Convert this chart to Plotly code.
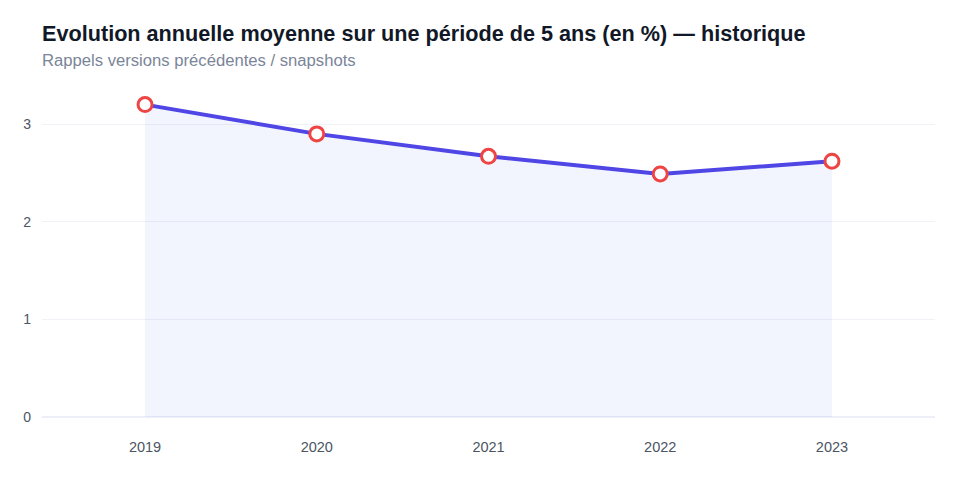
import plotly.graph_objects as go

years = ["2019", "2020", "2021", "2022", "2023"]
values = [3.20, 2.90, 2.67, 2.49, 2.62]
y_ticks = [0, 1, 2, 3]

title_text = "Evolution annuelle moyenne sur une période de 5 ans (en %) — historique"
subtitle_text = "Rappels versions précédentes / snapshots"

fig = go.Figure()
fig.add_trace(go.Scatter(
    x=years, y=values, mode="lines+markers",
    line=dict(color="#4f46e5", width=4),
    fill="tozeroy", fillcolor="rgba(38,88,238,0.06)",
    marker=dict(size=14, color="white", line=dict(color="#ef4444", width=3)),
    hoverinfo="x+y", showlegend=False,
))

TOP, BOTTOM = 88, 63
fig.update_layout(
    width=960, height=480,
    margin=dict(l=42, r=25, t=TOP, b=BOTTOM),
    paper_bgcolor="white", plot_bgcolor="white",
    font=dict(family="Liberation Sans, Arial, sans-serif", color="#4b5563", size=14),
    xaxis=dict(type="category", range=[-0.6, 4.6], showgrid=False, showline=False,
               zeroline=False, ticks="", ticklabelstandoff=19,
               tickfont=dict(size=14.5, color="#4b5563")),
    yaxis=dict(range=[0, 3.37], tickvals=y_ticks, showgrid=True, gridcolor="#f0f2f8",
               gridwidth=1, zeroline=True, zerolinecolor="#eceff6", zerolinewidth=2,
               showline=False, ticks="", ticklabelstandoff=10,
               tickfont=dict(size=14, color="#4b5563")),
)

plot_h = 480 - TOP - BOTTOM
def ypaper(px):
    return (480 - BOTTOM - px) / plot_h

fig.add_annotation(text="<b>" + title_text + "</b>", x=0, xref="paper", xanchor="left",
                   xshift=-2, y=ypaper(33), yref="paper", yanchor="middle", showarrow=False,
                   font=dict(size=21.65, color="#111827"))
fig.add_annotation(text=subtitle_text, x=0, xref="paper", xanchor="left",
                   xshift=-2, y=ypaper(60), yref="paper", yanchor="middle", showarrow=False,
                   font=dict(size=16.65, color="#7b8599"))

fig.write_html("out.html")
